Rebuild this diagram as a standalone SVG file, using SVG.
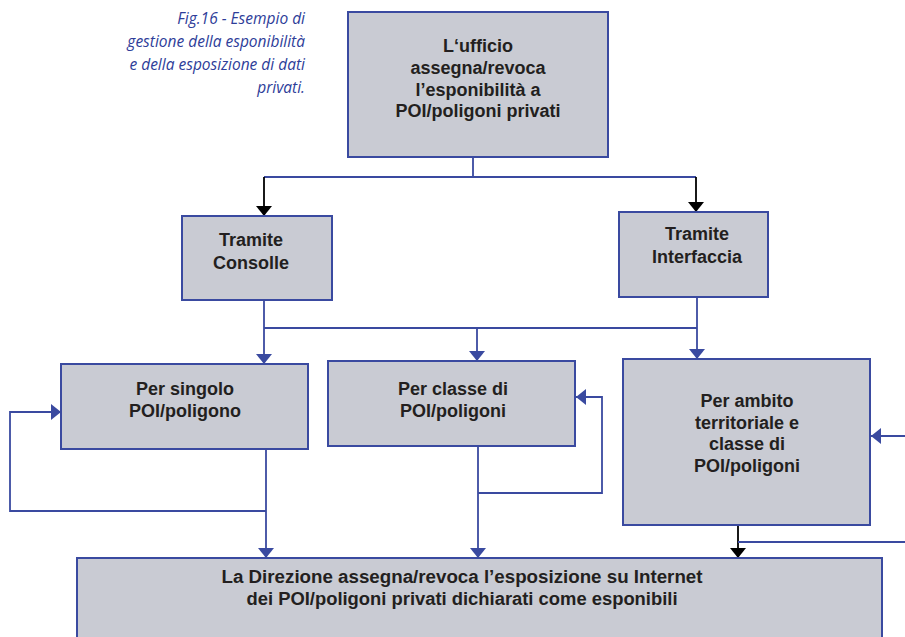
<svg xmlns="http://www.w3.org/2000/svg" width="905" height="637" viewBox="0 0 905 637">
<style>
.box{fill:#C9CBD3;stroke:#3A4AA0;stroke-width:2}
.t{font-family:"Liberation Sans",Arial,sans-serif;font-weight:bold;font-size:18px;fill:#231F20;text-anchor:middle}
.cap{font-family:"Open Sans","Lato",sans-serif;font-style:italic;font-size:15.5px;fill:#2E3D99;text-anchor:end}
.c{fill:none;stroke:#3A4AA0;stroke-width:1.8}
.k{fill:none;stroke:#000;stroke-width:1.8}
</style>
<defs>
<marker id="ab" viewBox="0 0 10 16" refX="10" refY="8" markerWidth="10" markerHeight="16" markerUnits="userSpaceOnUse" orient="auto"><path d="M0,0 L10,8 L0,16 z" fill="#3A4AA0"/></marker>
<marker id="ak" viewBox="0 0 10 16" refX="10" refY="8" markerWidth="10" markerHeight="16" markerUnits="userSpaceOnUse" orient="auto"><path d="M0,0 L10,8 L0,16 z" fill="#000"/></marker>
</defs>
<g id="caption">
<text class="cap" x="305" y="24">Fig.16 - Esempio di</text>
<text class="cap" x="305" y="47">gestione della esponibilità</text>
<text class="cap" x="305" y="70">e della esposizione di dati</text>
<text class="cap" x="305" y="93">privati.</text>
</g>
<g id="connectors">
<path class="c" d="M473,157 V177 M264,177 H696"/>
<path class="k" d="M264,177 V216" marker-end="url(#ak)"/>
<path class="k" d="M696,177 V212" marker-end="url(#ak)"/>
<path class="c" d="M264,300 V364" marker-end="url(#ab)"/>
<path class="c" d="M264,328 H697"/>
<path class="c" d="M697,297 V359" marker-end="url(#ab)"/>
<path class="c" d="M477,328 V361" marker-end="url(#ab)"/>
<path class="c" d="M266,449 V558" marker-end="url(#ab)"/>
<path class="c" d="M266,511 H10 V412 H61" marker-end="url(#ab)"/>
<path class="c" d="M478,446 V558" marker-end="url(#ab)"/>
<path class="c" d="M478,493 H602 V397 H576" marker-end="url(#ab)"/>
<path class="c" d="M905,436 H871" marker-end="url(#ab)"/>
<path class="k" d="M738,525 V558" marker-end="url(#ak)"/>
<path class="c" d="M738,542 H905"/>
</g>
<g id="n-ufficio">
<rect class="box" x="348" y="12" width="260" height="145"/>
<text class="t" x="478" y="52">L‘ufficio</text>
<text class="t" x="478" y="74">assegna/revoca</text>
<text class="t" x="478" y="96">l’esponibilità a</text>
<text class="t" x="478" y="117">POI/poligoni privati</text>
</g>
<g id="n-consolle">
<rect class="box" x="182" y="216" width="150" height="84"/>
<text class="t" x="251" y="246">Tramite</text>
<text class="t" x="251" y="269">Consolle</text>
</g>
<g id="n-interfaccia">
<rect class="box" x="619" y="212" width="149" height="85"/>
<text class="t" x="697" y="240">Tramite</text>
<text class="t" x="697" y="263">Interfaccia</text>
</g>
<g id="n-singolo">
<rect class="box" x="61" y="364" width="247" height="85"/>
<text class="t" x="185" y="395">Per singolo</text>
<text class="t" x="185" y="417">POI/poligono</text>
</g>
<g id="n-classe">
<rect class="box" x="328" y="361" width="247" height="85"/>
<text class="t" x="453" y="395">Per classe di</text>
<text class="t" x="453" y="417">POI/poligoni</text>
</g>
<g id="n-ambito">
<rect class="box" x="623" y="359" width="247" height="166"/>
<text class="t" x="747" y="407">Per ambito</text>
<text class="t" x="747" y="429">territoriale e</text>
<text class="t" x="747" y="450">classe di</text>
<text class="t" x="747" y="472">POI/poligoni</text>
</g>
<g id="n-direzione">
<rect class="box" x="77" y="558" width="805" height="90"/>
<text class="t" x="462" y="583" textLength="481" lengthAdjust="spacingAndGlyphs">La Direzione assegna/revoca l’esposizione su Internet</text>
<text class="t" x="462" y="605" textLength="431" lengthAdjust="spacingAndGlyphs">dei POI/poligoni privati dichiarati come esponibili</text>
</g>
</svg>
